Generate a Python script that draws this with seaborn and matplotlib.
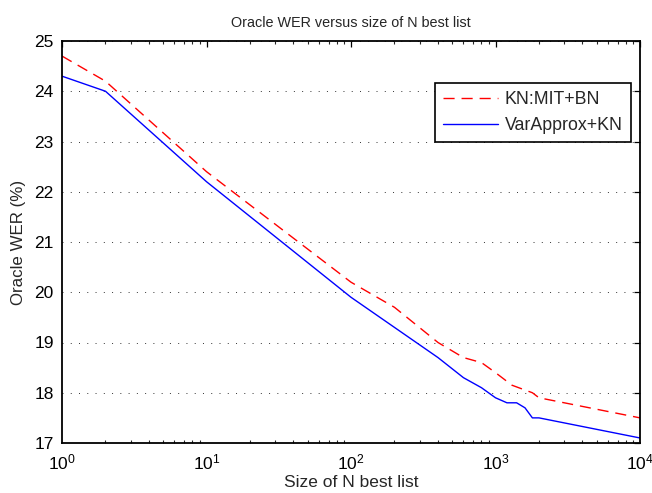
import numpy as np
import pandas as pd
import matplotlib
matplotlib.use("Agg")
import matplotlib.pyplot as plt
import seaborn as sns
from matplotlib.ticker import LogLocator, NullFormatter

# Data
kn_x = [1, 2, 10, 100, 200, 400, 600, 800, 1000, 1300, 1800, 2000, 10000]
kn_y = [24.7, 24.2, 22.4, 20.2, 19.7, 19.0, 18.7, 18.6, 18.4, 18.15, 18.0, 17.9, 17.5]
va_x = [1, 2, 10, 100, 400, 600, 800, 1000, 1200, 1400, 1600, 1800, 2000, 10000]
va_y = [24.3, 24.0, 22.2, 19.9, 18.7, 18.3, 18.1, 17.9, 17.8, 17.8, 17.7, 17.5, 17.5, 17.1]
series_names = ["KN:MIT+BN", "VarApprox+KN"]
y_ticks = [17, 18, 19, 20, 21, 22, 23, 24, 25]

df = pd.DataFrame({
    "N": kn_x + va_x,
    "WER": kn_y + va_y,
    "model": [series_names[0]] * len(kn_x) + [series_names[1]] * len(va_x),
})

sns.set_style("white")
plt.rcParams["font.family"] = ["Liberation Sans", "DejaVu Sans"]
plt.rcParams["mathtext.fontset"] = "custom"
plt.rcParams["mathtext.rm"] = "Liberation Sans"
plt.rcParams["mathtext.it"] = "Liberation Sans"

fig = plt.figure(figsize=(6.52, 4.93), dpi=100)
ax = fig.add_axes([62 / 652, 50 / 493, (640 - 62) / 652, (443 - 41) / 493])

sns.lineplot(
    data=df, x="N", y="WER", hue="model", style="model",
    palette={series_names[0]: "#ff0000", series_names[1]: "#0000ff"},
    dashes={series_names[0]: (8, 5), series_names[1]: ""},
    linewidth=1.0, ax=ax, legend=True, estimator=None, sort=False,
)
ax.set_xscale("log")
ax.set_xlim(1, 10000)
ax.set_ylim(17, 25)
ax.set_yticks(y_ticks)
ax.xaxis.set_major_locator(LogLocator(base=10, numticks=10))
ax.xaxis.set_minor_locator(LogLocator(base=10, subs=np.arange(2, 10), numticks=50))
ax.xaxis.set_minor_formatter(NullFormatter())

ax.yaxis.grid(True, color="#333333", linestyle=(0, (1, 7.5)), linewidth=0.7)
ax.xaxis.grid(False)

for s in ax.spines.values():
    s.set_visible(True)
    s.set_color("black")
    s.set_linewidth(1.3)

ax.tick_params(axis="both", which="major", direction="in", length=4, width=0.9,
               top=True, right=True, labelsize=12.5, colors="black")
ax.tick_params(axis="x", which="major", pad=7)
ax.tick_params(axis="y", which="major", pad=6)
ax.tick_params(axis="x", which="minor", direction="in", length=2.5, width=0.8,
               top=True, bottom=True)
ax.tick_params(axis="y", which="minor", left=False, right=False)

ax.set_xlabel("Size of N best list", fontsize=12.5, labelpad=2)
ax.set_ylabel("Oracle WER (%)", fontsize=12.2, labelpad=6)
ax.set_title("Oracle WER versus size of N best list", fontsize=10.4, pad=10)

leg = ax.legend(loc="upper right", bbox_to_anchor=(0.9844, 0.8955), fontsize=12.8,
                frameon=True, fancybox=False, edgecolor="black", framealpha=1,
                handlelength=3.1, borderpad=0.45, labelspacing=0.5, handletextpad=0.4,
                borderaxespad=0)
leg.get_frame().set_linewidth(1.2)
leg.set_title(None)

fig.savefig("out.png", dpi=100)
